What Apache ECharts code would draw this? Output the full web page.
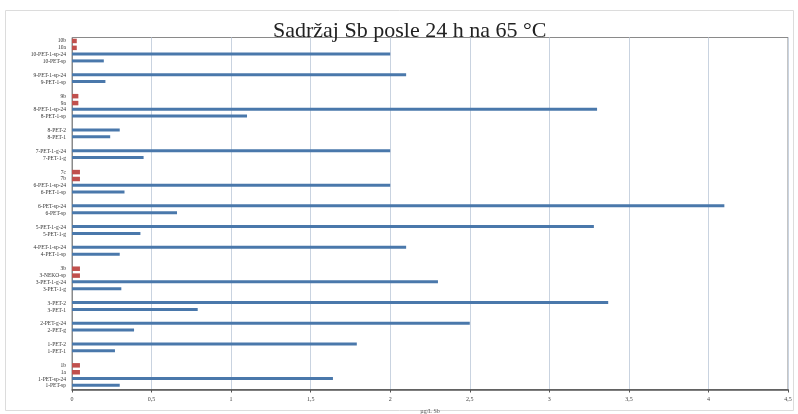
<!DOCTYPE html>
<html>
<head>
<meta charset="utf-8">
<script src="https://cdn.jsdelivr.net/npm/echarts@6/dist/echarts.min.js"></script>
<style>
  html, body { margin: 0; padding: 0; background: #ffffff; }
  #chart { width: 798px; height: 414px; }
</style>
</head>
<body>
<div id="chart"></div>
<script>
// Sample labels, top to bottom; empty strings separate the sample groups
const categories = [
  '10b', '10a', '10-PET-1-sp-24', '10-PET-sp', '',
  '9-PET-1-sp-24', '9-PET-1-sp', '',
  '9b', '9a', '8-PET-1-sp-24', '8-PET-1-sp', '',
  '8-PET-2', '8-PET-1', '',
  '7-PET-1-g-24', '7-PET-1-g', '',
  '7c', '7b', '6-PET-1-sp-24', '6-PET-1-sp', '',
  '6-PET-sp-24', '6-PET-sp', '',
  '5-PET-1-g-24', '5-PET-1-g', '',
  '4-PET-1-sp-24', '4-PET-1-sp', '',
  '3b', '3-NEKO-sp', '3-PET-1-g-24', '3-PET-1-g', '',
  '3-PET-2', '3-PET-1', '',
  '2-PET-g-24', '2-PET-g', '',
  '1-PET-2', '1-PET-1', '',
  '1b', '1a', '1-PET-sp-24', '1-PET-sp'
];

// Sb content of the PET samples (µg/L), '-' where the row is not a PET sample
const petValues = [
  '-', '-', 2.0, 0.2, '-',
  2.1, 0.21, '-',
  '-', '-', 3.3, 1.1, '-',
  0.3, 0.24, '-',
  2.0, 0.45, '-',
  '-', '-', 2.0, 0.33, '-',
  4.1, 0.66, '-',
  3.28, 0.43, '-',
  2.1, 0.3, '-',
  '-', '-', 2.3, 0.31, '-',
  3.37, 0.79, '-',
  2.5, 0.39, '-',
  1.79, 0.27, '-',
  '-', '-', 1.64, 0.3
];

// Sb content of the blank / reference rows (µg/L)
const blankValues = [
  0.03, 0.03, '-', '-', '-',
  '-', '-', '-',
  0.04, 0.04, '-', '-', '-',
  '-', '-', '-',
  '-', '-', '-',
  0.05, 0.05, '-', '-', '-',
  '-', '-', '-',
  '-', '-', '-',
  '-', '-', '-',
  0.05, 0.05, '-', '-', '-',
  '-', '-', '-',
  '-', '-', '-',
  '-', '-', '-',
  0.05, 0.05, '-', '-'
];

const xTicks = { min: 0, max: 4.5, interval: 0.5 };

const chart = echarts.init(document.getElementById('chart'), null, { renderer: 'canvas' });

chart.setOption({
  animation: false,
  backgroundColor: '#ffffff',
  title: {
    text: 'Sadržaj Sb posle 24 h na 65 °C',
    left: 268,
    top: 15,
    textStyle: {
      fontFamily: 'Liberation Serif',
      fontSize: 22,
      fontWeight: 'normal',
      color: '#222222'
    }
  },
  graphic: [{
    type: 'rect',
    shape: { x: 5.5, y: 10.5, width: 788, height: 400 },
    style: { fill: 'none', stroke: '#dcdcdc', lineWidth: 1 },
    silent: true
  }],
  grid: {
    left: 72,
    right: 10,
    top: 37.5,
    bottom: 24.5,
    outerBoundsMode: 'none',
    show: true,
    borderColor: '#8a8a8a',
    borderWidth: 1
  },
  xAxis: {
    type: 'value',
    min: xTicks.min,
    max: xTicks.max,
    interval: xTicks.interval,
    name: 'µg/L Sb',
    nameLocation: 'middle',
    nameGap: 19,
    nameTextStyle: { fontFamily: 'Liberation Serif', fontSize: 6, color: '#555' },
    axisLine: { show: true, lineStyle: { color: '#555', width: 1.5 } },
    axisTick: { show: true, length: 3, lineStyle: { color: '#555' } },
    axisLabel: {
      fontFamily: 'Liberation Serif',
      fontSize: 6,
      color: '#444',
      margin: 7,
      formatter: v => String(v).replace('.', ',')
    },
    splitLine: { show: true, lineStyle: { color: '#c9d3e0', width: 1 } }
  },
  yAxis: {
    type: 'category',
    inverse: true,
    data: categories,
    axisLine: { show: true, lineStyle: { color: '#8a8a8a' } },
    axisTick: { show: false },
    axisLabel: {
      interval: 0,
      fontFamily: 'Liberation Serif',
      fontSize: 5.5,
      color: '#333',
      margin: 6
    },
    splitLine: { show: false }
  },
  series: [
    {
      name: 'PET',
      type: 'bar',
      data: petValues,
      barWidth: 3,
      barGap: '-100%',
      itemStyle: { color: '#4a78ab' }
    },
    {
      name: 'blank',
      type: 'bar',
      data: blankValues,
      barWidth: 4.5,
      itemStyle: { color: '#c0504d' }
    }
  ]
});
</script>
</body>
</html>
